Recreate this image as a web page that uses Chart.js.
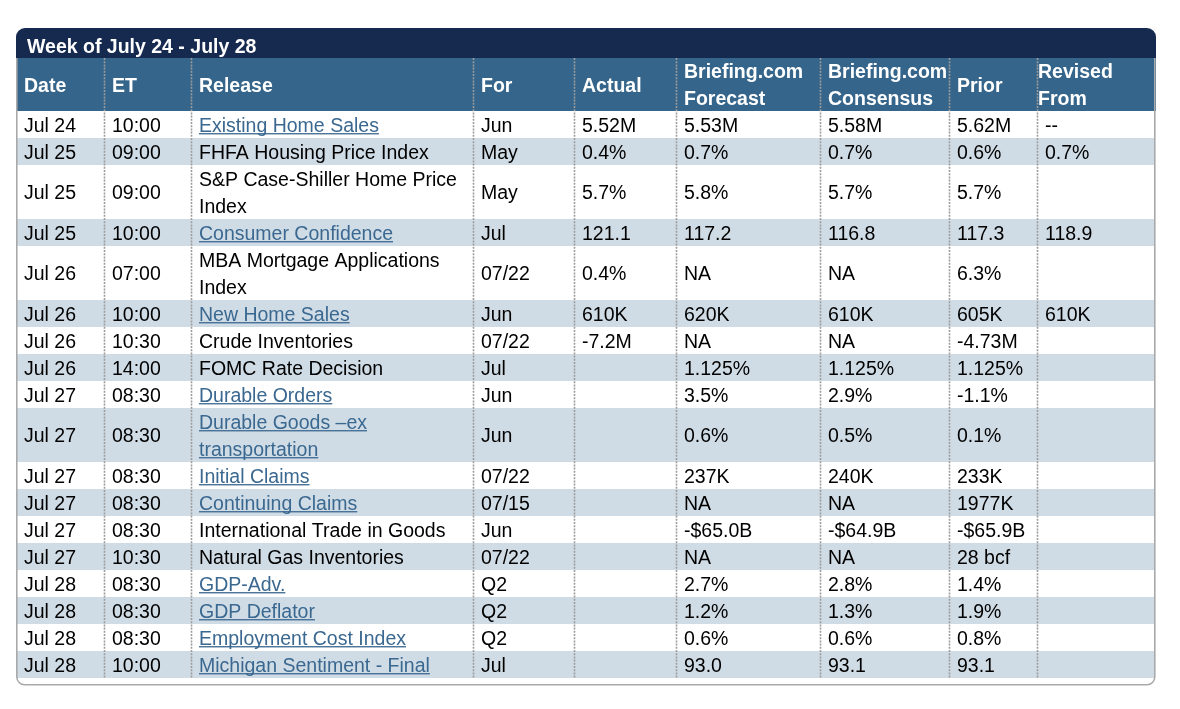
<!DOCTYPE html>
<html>
<head>
<meta charset="utf-8">
<script src="https://cdn.jsdelivr.net/npm/chart.js@4"></script>
<style>
  html, body { margin: 0; padding: 0; background: #fff; }
  #wrap { position: absolute; left: 16px; top: 28px; width: 1140px; height: 658px; }
</style>
</head>
<body>
<div id="wrap"><canvas id="calendar"></canvas></div>
<script>
// economic calendar, week of July 24

const title = 'Week of July 24 - July 28';
const headers = [['Date'], ['ET'], ['Release'], ['For'], ['Actual'],
  ['Briefing.com', 'Forecast'], ['Briefing.com', 'Consensus'], ['Prior'], ['Revised', 'From']];

const dates = ['Jul 24', 'Jul 25', 'Jul 25', 'Jul 25', 'Jul 26', 'Jul 26', 'Jul 26', 'Jul 26', 'Jul 27',
  'Jul 27', 'Jul 27', 'Jul 27', 'Jul 27', 'Jul 27', 'Jul 28', 'Jul 28', 'Jul 28', 'Jul 28'];
const times = ['10:00', '09:00', '09:00', '10:00', '07:00', '10:00', '10:30', '14:00', '08:30',
  '08:30', '08:30', '08:30', '08:30', '10:30', '08:30', '08:30', '08:30', '10:00'];
const releases = ['Existing Home Sales', 'FHFA Housing Price Index', 'S&P Case-Shiller Home Price Index',
  'Consumer Confidence', 'MBA Mortgage Applications Index', 'New Home Sales', 'Crude Inventories',
  'FOMC Rate Decision', 'Durable Orders', 'Durable Goods \u2013ex transportation', 'Initial Claims',
  'Continuing Claims', 'International Trade in Goods', 'Natural Gas Inventories', 'GDP-Adv.',
  'GDP Deflator', 'Employment Cost Index', 'Michigan Sentiment - Final'];
const isLink = [true, false, false, true, false, true, false, false, true,
  true, true, true, false, false, true, true, true, true];
const periods = ['Jun', 'May', 'May', 'Jul', '07/22', 'Jun', '07/22', 'Jul', 'Jun',
  'Jun', '07/22', '07/15', 'Jun', '07/22', 'Q2', 'Q2', 'Q2', 'Jul'];
const actual = ['5.52M', '0.4%', '5.7%', '121.1', '0.4%', '610K', '-7.2M', '', '',
  '', '', '', '', '', '', '', '', ''];
const forecast = ['5.53M', '0.7%', '5.8%', '117.2', 'NA', '620K', 'NA', '1.125%', '3.5%',
  '0.6%', '237K', 'NA', '-$65.0B', 'NA', '2.7%', '1.2%', '0.6%', '93.0'];
const consensus = ['5.58M', '0.7%', '5.7%', '116.8', 'NA', '610K', 'NA', '1.125%', '2.9%',
  '0.5%', '240K', 'NA', '-$64.9B', 'NA', '2.8%', '1.3%', '0.6%', '93.1'];
const prior = ['5.62M', '0.6%', '5.7%', '117.3', '6.3%', '605K', '-4.73M', '1.125%', '-1.1%',
  '0.1%', '233K', '1977K', '-$65.9B', '28 bcf', '1.4%', '1.9%', '0.8%', '93.1'];
const revised = ['--', '0.7%', '', '118.9', '', '610K', '', '', '',
  '', '', '', '', '', '', '', '', ''];

const columns = [dates, times, releases, periods, actual, forecast, consensus, prior, revised];

// layout
const colWidths = [88, 87, 282, 101, 102, 144, 129, 88, 118];
const TITLE_H = 30, HEAD_H = 53, LINE_H = 27, FOOT_H = 8;
const FONT = '19.5px "Liberation Sans", Arial, sans-serif';
const BOLD = 'bold 19.5px "Liberation Sans", Arial, sans-serif';
const NAVY = '#162a50', STEEL = '#35658a', STRIPE = '#d0dce5', LINK = '#3a6890';

// wrap text to a width
const measureCtx = document.createElement('canvas').getContext('2d');
function wrap(text, width) {
  measureCtx.font = FONT;
  const words = text.split(' ');
  let lines = [], cur = '';
  words.forEach(w => {
    const test = cur ? cur + ' ' + w : w;
    if (cur && measureCtx.measureText(test).width > width) { lines.push(cur); cur = w; }
    else cur = test;
  });
  lines.push(cur);
  return lines;
}

const releaseLines = releases.map(r => wrap(r, colWidths[2] - 14));
const rowLines = releaseLines.map(l => l.length);
let rowStart = [], acc = 0;
rowLines.forEach(n => { rowStart.push(acc); acc += n; });
const totalLines = acc;

let colEdges = [0];
colWidths.forEach(w => colEdges.push(colEdges[colEdges.length - 1] + w));

const tablePlugin = {
  id: 'table',
  beforeDraw(chart) {
    const ctx = chart.ctx, x = chart.scales.x, y = chart.scales.y;
    const W = chart.width;
    const bodyTop = y.getPixelForValue(0), bodyBottom = y.getPixelForValue(totalLines);
    const headTop = bodyTop - HEAD_H, titleTop = headTop - TITLE_H;
    const xs = colEdges.map(v => x.getPixelForValue(v));
    ctx.save();

    // body background + stripes
    ctx.fillStyle = '#fff';
    ctx.fillRect(0, bodyTop, W, chart.height - bodyTop);
    rowStart.forEach((s, i) => {
      if (i % 2 === 1) {
        const t = y.getPixelForValue(s), b = y.getPixelForValue(s + rowLines[i]);
        ctx.fillStyle = STRIPE;
        ctx.fillRect(xs[0], t, xs[xs.length - 1] - xs[0], b - t);
      }
    });

    // title bar
    ctx.fillStyle = NAVY;
    ctx.beginPath();
    ctx.roundRect(0, titleTop, W, TITLE_H, [9, 9, 0, 0]);
    ctx.fill();
    ctx.fillStyle = '#fff';
    ctx.font = BOLD;
    ctx.textBaseline = 'alphabetic';
    ctx.fillText(title, 11, titleTop + TITLE_H / 2 + 10);

    // header
    ctx.fillStyle = STEEL;
    ctx.fillRect(0, headTop, W, HEAD_H);

    // dotted column lines
    ctx.strokeStyle = '#9c9c9c';
    ctx.lineWidth = 1.6;
    ctx.setLineDash([2, 1.2]);
    for (let c = 1; c < xs.length - 1; c++) {
      ctx.beginPath();
      ctx.moveTo(Math.round(xs[c]) + 0.5, headTop);
      ctx.lineTo(Math.round(xs[c]) + 0.5, bodyBottom);
      ctx.stroke();
    }
    ctx.setLineDash([]);

    // header labels
    ctx.fillStyle = '#fff';
    ctx.font = BOLD;
    headers.forEach((lines, c) => {
      const pad = c === headers.length - 1 ? 1 : 8;
      const mid = headTop + HEAD_H / 2;
      lines.forEach((txt, k) => {
        const cy = mid + (k - (lines.length - 1) / 2) * LINE_H;
        ctx.fillText(txt, xs[c] + pad, cy + 7);
      });
    });

    // body cells
    ctx.font = FONT;
    columns.forEach((col, c) => {
      col.forEach((val, i) => {
        const t = y.getPixelForValue(rowStart[i]), b = y.getPixelForValue(rowStart[i] + rowLines[i]);
        const lines = c === 2 ? releaseLines[i] : [val];
        const mid = (t + b) / 2;
        const link = c === 2 && isLink[i];
        ctx.fillStyle = link ? LINK : '#000';
        lines.forEach((txt, k) => {
          if (!txt) return;
          const cy = mid + (k - (lines.length - 1) / 2) * LINE_H;
          const tx = xs[c] + 8, base = cy + 7;
          ctx.fillText(txt, tx, base);
          if (link) ctx.fillRect(tx, base + 1.6, ctx.measureText(txt).width, 1.3);
        });
      });
    });

    // grey frame round the body
    ctx.strokeStyle = '#a9a9a9';
    ctx.lineWidth = 1.6;
    const r = 8, L = 0.8, R = W - 1.2, B = chart.height - 1.2;
    ctx.beginPath();
    ctx.moveTo(L, headTop);
    ctx.lineTo(L, B - r);
    ctx.arcTo(L, B, L + r, B, r);
    ctx.lineTo(R - r, B);
    ctx.arcTo(R, B, R, B - r, r);
    ctx.lineTo(R, headTop);
    ctx.stroke();
    ctx.restore();
  }
};

new Chart(document.getElementById('calendar'), {
  type: 'scatter',
  data: { datasets: [] },
  options: {
    responsive: true,
    maintainAspectRatio: false,
    animation: false,
    events: [],
    layout: { padding: { top: TITLE_H + HEAD_H, bottom: FOOT_H, left: 0, right: 0 } },
    plugins: { legend: { display: false }, tooltip: { enabled: false } },
    scales: {
      x: { type: 'linear', display: false, min: 0, max: 1140 },
      y: { type: 'linear', display: false, min: 0, max: totalLines, reverse: true }
    }
  },
  plugins: [tablePlugin]
});
</script>
</body>
</html>
